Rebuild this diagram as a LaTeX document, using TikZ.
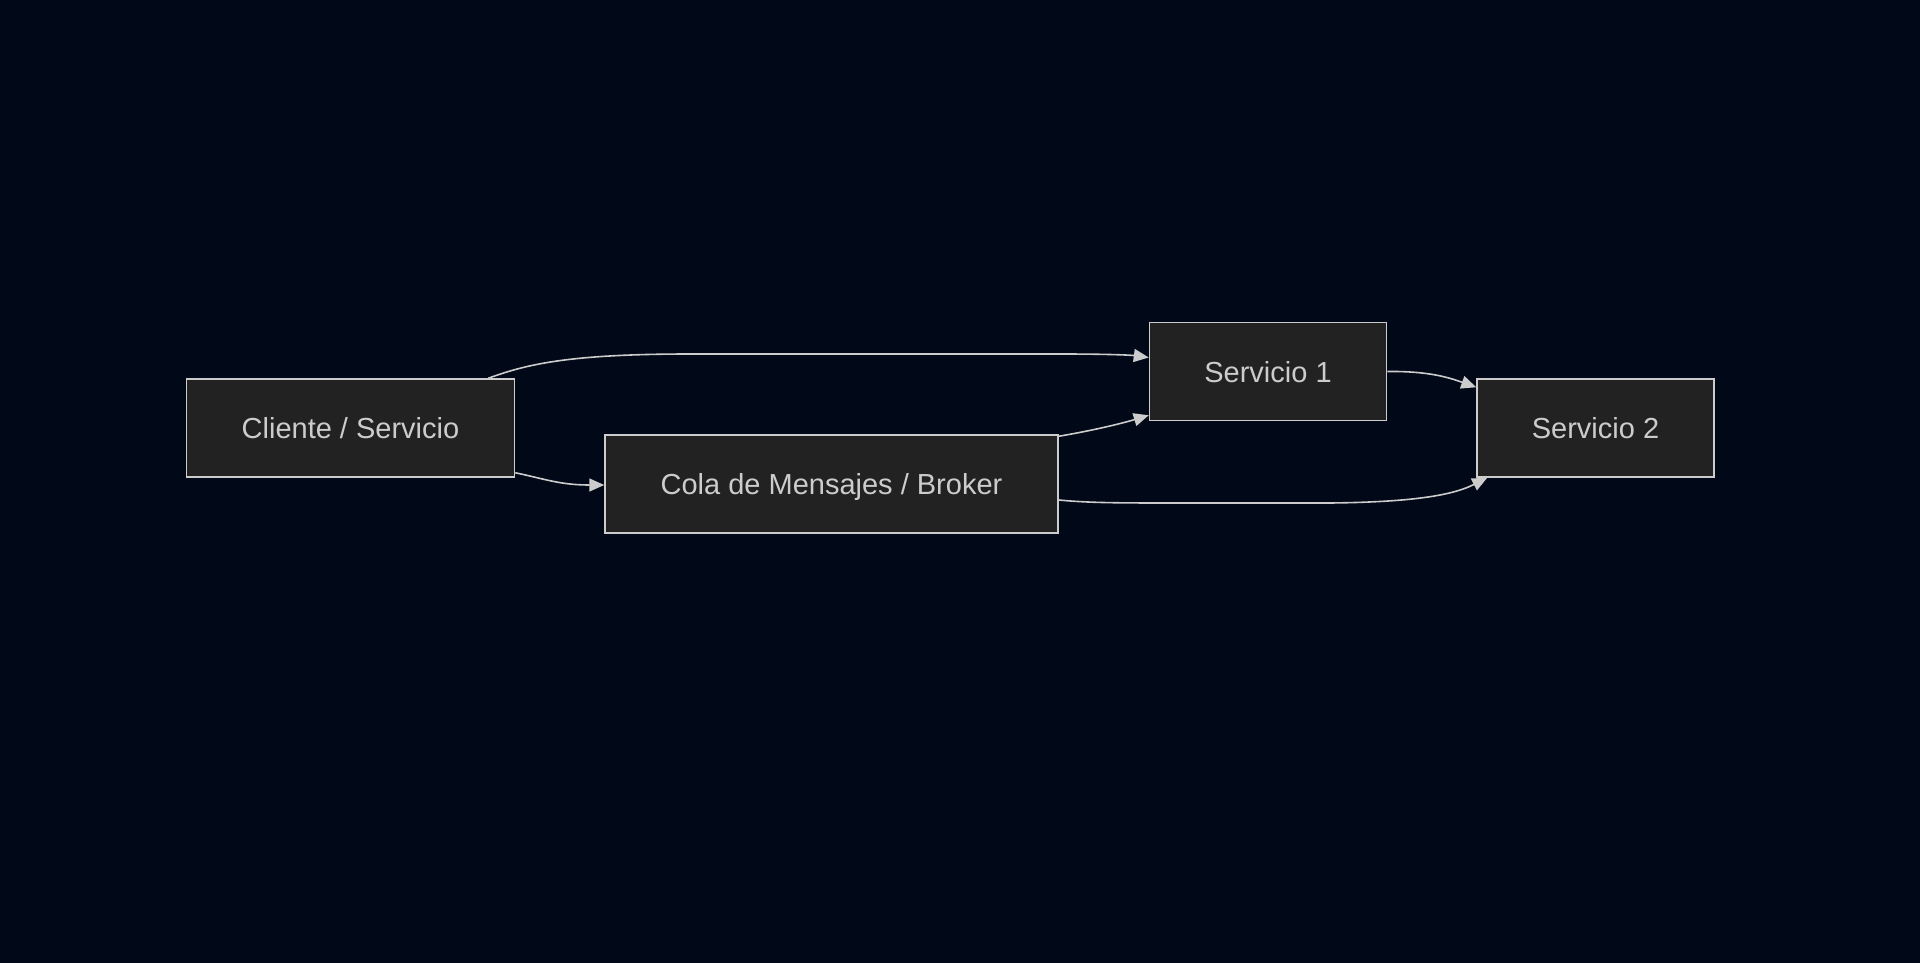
\documentclass[tikz,border=0pt]{standalone}
\usepackage{fontspec}
\setmainfont{Liberation Sans}
\usetikzlibrary{arrows.meta,calc}
\definecolor{bgc}{RGB}{1,8,23}
\definecolor{boxfill}{RGB}{33,34,33}
\definecolor{linec}{RGB}{204,204,204}
\begin{document}
\begin{tikzpicture}[x=1pt,y=-1pt,
  box/.style={draw=linec,line width=1.5pt,fill=boxfill,text=linec,inner sep=0pt,
    font=\fontsize{29}{34}\selectfont,minimum height=98pt,text height=21pt,text depth=0pt},
  conn/.style={draw=linec,line width=1.6pt,-{Triangle[length=15pt,width=13pt]}}]
\fill[bgc] (0,0) rectangle (1920,963);
\useasboundingbox (0,0) rectangle (1920,963);
\node[box,minimum width=328pt] (cli) at (350.5,428) {Cliente / Servicio};
\node[box,minimum width=453pt] (cola) at (831.5,484) {Cola de Mensajes / Broker};
\node[box,minimum width=237pt] (s1) at (1268,371.5) {Servicio 1};
\node[box,minimum width=237pt] (s2) at (1595.5,428) {Servicio 2};
% edges
\draw[conn] ($(cli.north east)+(-27,0)$) .. controls (525,365) and (565,354) .. (690,354)
  -- (1060,354) .. controls (1105,354) and (1130,355) .. ($(s1.west)+(0,-14)$);
\draw[conn] ($(cli.south east)+(0,-5)$) .. controls (545,479) and (560,485) .. ($(cola.west)+(0,1)$);
\draw[conn] ($(cola.north east)+(0,2)$) .. controls (1090,431) and (1120,424) .. ($(s1.south west)+(0,-6)$);
\draw[conn] ($(cola.east)+(0,16)$) .. controls (1090,503) and (1120,503) .. (1180,503)
  -- (1330,503) .. controls (1420,502) and (1455,494) .. ($(s2.south west)+(11,0)$);
\draw[conn] (s1.east) .. controls (1430,371) and (1450,378) .. ($(s2.north west)+(0,9)$);
\end{tikzpicture}
\end{document}
